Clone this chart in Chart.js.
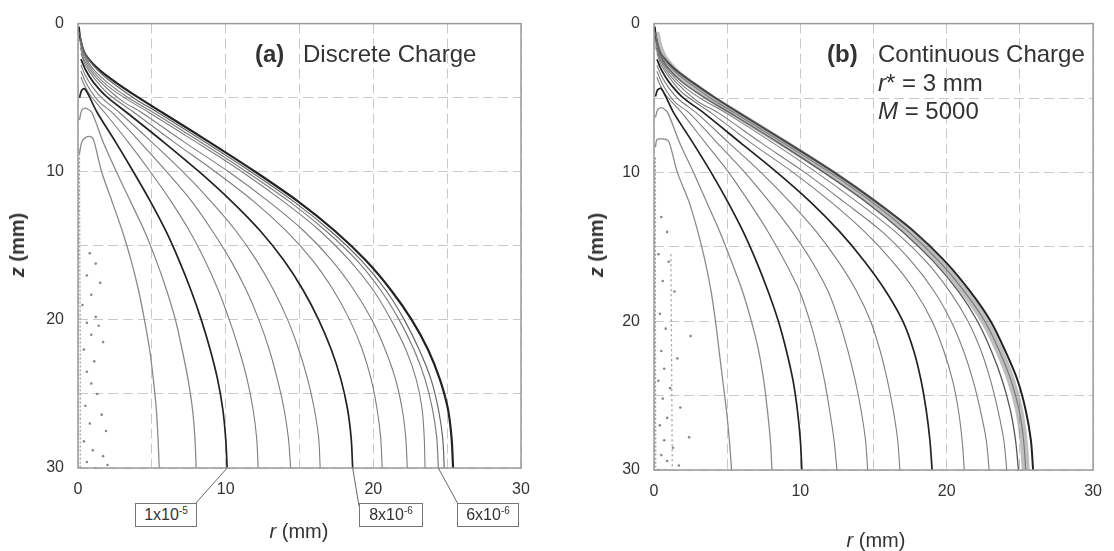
<!DOCTYPE html>
<html>
<head>
<meta charset="utf-8">
<script src="https://cdn.jsdelivr.net/npm/chart.js@4"></script>
<style>
  body { margin: 0; background: #fff; }
  #wrap { position: relative; width: 1114px; height: 551px; font-family: "Liberation Sans", Arial, sans-serif; color: #333; }
  canvas { position: absolute; top: 0; }
  .t { position: absolute; white-space: nowrap; line-height: 1; }
  .big { font-size: 24px; }
  .ax { font-size: 20px; transform: translate(-50%, -50%); }
  .zt { font-size: 20px; font-weight: bold; transform: translate(-50%, -50%) rotate(-90deg); }
  .box { position: absolute; border: 1px solid #777; background: #fff; font-size: 16px; height: 22px; line-height: 22px; text-align: center; }
  .box sup { font-size: 10px; vertical-align: 6px; line-height: 0; }
</style>
</head>
<body>
<div id="wrap">
  <canvas id="left" width="557" height="551" style="left:0"></canvas>
  <canvas id="right" width="557" height="551" style="left:557px"></canvas>

  <div class="t big" style="left:255px; top:42px; font-weight:bold">(a)</div>
  <div class="t big" style="left:303px; top:42px">Discrete Charge</div>

  <div class="t big" style="left:827px; top:42px; font-weight:bold">(b)</div>
  <div class="t big" style="left:878px; top:42px">Continuous Charge</div>
  <div class="t big" style="left:878px; top:71px"><i>r</i>* = 3 mm</div>
  <div class="t big" style="left:878px; top:99px"><i>M</i> = 5000</div>

  <div class="t zt" style="left:17px; top:245px"><i>z</i> (mm)</div>
  <div class="t zt" style="left:596px; top:245px"><i>z</i> (mm)</div>
  <div class="t ax" style="left:299px; top:531px"><i>r</i> (mm)</div>
  <div class="t ax" style="left:876px; top:540px"><i>r</i> (mm)</div>

  <div class="box" style="left:135px; top:503px; width:60px">1x10<sup>-5</sup></div>
  <div class="box" style="left:359px; top:503px; width:62px">8x10<sup>-6</sup></div>
  <div class="box" style="left:457px; top:503px; width:60px">6x10<sup>-6</sup></div>
</div>

<script>
// contour lines, [r, z] in mm
// (a) discrete charge
const a0 = [[0.1, 8.5], [0.12, 15], [0.15, 22], [0.15, 30]];
const a1 = [[0.1, 8.8], [0.25, 8.0], [0.5, 7.7], [0.9, 7.65], [1.1, 8], [1.6, 10], [2.3, 12], [3.0, 14], [3.6, 16], [4.1, 18], [4.5, 20], [4.85, 22], [5.1, 24], [5.3, 26], [5.42, 28], [5.5, 30]];
const a2 = [[0.1, 6.5], [0.25, 5.85], [0.5, 5.7], [0.7, 5.8], [0.95, 6], [1.7, 8], [2.6, 10], [3.55, 12], [4.5, 14], [5.3, 16], [6.0, 18], [6.6, 20], [7.05, 22], [7.45, 24], [7.75, 26], [7.92, 28], [8.0, 30]];
const a3 = [[0.1, 5.0], [0.25, 4.5], [0.45, 4.4], [0.7, 4.8], [1.3, 6], [2.55, 8], [3.75, 10], [4.9, 12], [5.95, 14], [6.85, 16], [7.65, 18], [8.35, 20], [8.95, 22], [9.45, 24], [9.8, 26], [10.0, 28], [10.1, 30]];
const a4 = [[0.2, 3.6], [0.4, 4.1], [0.8, 4.8], [1.8, 6], [3.4, 8], [4.9, 10], [6.3, 12], [7.55, 14], [8.6, 16], [9.5, 18], [10.25, 20], [10.9, 22], [11.45, 24], [11.85, 26], [12.1, 28], [12.2, 30]];
const a5 = [[0.2, 3.2], [0.45, 3.8], [0.9, 4.6], [1.45, 5.3], [2.3, 6], [4.2, 8], [6.0, 10], [7.7, 12], [9.1, 14], [10.35, 16], [11.4, 18], [12.25, 20], [12.95, 22], [13.5, 24], [13.95, 26], [14.25, 28], [14.4, 30]];
const a6 = [[0.2, 2.8], [0.5, 3.5], [1.0, 4.3], [1.7, 5.1], [2.8, 6], [5.0, 8], [7.1, 10], [9.0, 12], [10.7, 14], [12.1, 16], [13.25, 18], [14.2, 20], [14.95, 22], [15.55, 24], [16.0, 26], [16.3, 28], [16.4, 30]];
const a7 = [[0.2, 2.4], [0.5, 3.1], [1.0, 3.9], [1.9, 4.9], [3.3, 6], [5.8, 8], [8.2, 10], [10.4, 12], [12.35, 14], [13.95, 16], [15.25, 18], [16.3, 20], [17.15, 22], [17.8, 24], [18.25, 26], [18.5, 28], [18.6, 30]];
const a8 = [[0.2, 2.0], [0.5, 2.8], [1.1, 3.7], [2.0, 4.7], [3.8, 6], [6.5, 8], [9.3, 10], [11.9, 12], [14.1, 14], [15.9, 16], [17.3, 18], [18.4, 20], [19.25, 22], [19.85, 24], [20.25, 26], [20.5, 28], [20.6, 30]];
const a9 = [[0.15, 1.6], [0.45, 2.5], [1.1, 3.5], [2.1, 4.5], [3.1, 5.3], [4.3, 6], [7.2, 8], [10.2, 10], [12.9, 12], [15.3, 14], [17.2, 16], [18.7, 18], [19.9, 20], [20.8, 22], [21.5, 24], [21.95, 26], [22.2, 28], [22.3, 30]];
const a10 = [[0.15, 1.3], [0.4, 2.2], [1.0, 3.2], [2.0, 4.2], [3.3, 5.1], [4.8, 6], [8.0, 8], [11.1, 10], [13.9, 12], [16.4, 14], [18.4, 16], [20.0, 18], [21.2, 20], [22.2, 22], [22.9, 24], [23.3, 26], [23.45, 28], [23.5, 30]];
const a11 = [[0.1, 1.0], [0.35, 1.9], [0.9, 2.9], [1.9, 3.9], [3.4, 5.0], [5.1, 6], [8.3, 8], [11.4, 10], [14.3, 12], [16.8, 14], [18.9, 16], [20.5, 18], [21.75, 20], [22.75, 22], [23.5, 24], [24.0, 26], [24.3, 28], [24.4, 30]];
const a12 = [[0.1, 0.6], [0.3, 1.5], [0.7, 2.4], [1.5, 3.3], [2.6, 4.2], [3.9, 5.1], [5.4, 6], [8.6, 8], [11.7, 10], [14.6, 12], [17.1, 14], [19.2, 16], [20.85, 18], [22.1, 20], [23.1, 22], [23.9, 24], [24.4, 26], [24.7, 28], [24.8, 30]];
const a13 = [[0.05, 0.2], [0.15, 1.0], [0.45, 2.0], [1.3, 3.0], [2.6, 4.0], [4.1, 5.0], [5.7, 6], [8.9, 8], [12.0, 10], [14.9, 12], [17.4, 14], [19.5, 16], [21.2, 18], [22.6, 20], [23.7, 22], [24.5, 24], [25.05, 26], [25.3, 28], [25.4, 30]];
const aDotsR = [0.8, 1.2, 0.6, 1.5, 0.9, 0.3, 1.2, 0.6, 1.4, 0.9, 1.7, 0.4, 1.1, 0.6, 0.9, 1.3, 0.5, 1.6, 0.8, 1.9, 0.4, 1.0, 1.7, 0.6, 2.0, 1.2];
const aDotsZ = [15.5, 16.2, 17, 17.5, 18.3, 19, 19.8, 20.2, 20.4, 21, 21.5, 22, 22.8, 23.5, 24.3, 25, 25.8, 26.4, 27, 27.5, 28.2, 28.8, 29.2, 29.6, 29.8, 30];

// (b) continuous charge
const b0 = [[0.1, 9], [0.1, 20], [0.12, 30]];
const b0b = [[1.15, 15.5], [1.2, 22], [1.25, 30]];
const b1 = [[0.1, 8.3], [0.2, 7.8], [0.5, 7.75], [0.85, 7.8], [1.05, 8], [1.6, 10], [2.4, 12], [3.0, 14], [3.5, 16], [3.9, 18], [4.2, 20], [4.45, 22], [4.7, 24], [4.95, 26], [5.15, 28], [5.3, 30]];
const b2 = [[0.1, 6.3], [0.25, 5.8], [0.5, 5.65], [0.7, 5.75], [0.95, 6], [1.75, 8], [2.7, 10], [3.6, 12], [4.5, 14], [5.3, 16], [6.05, 18], [6.65, 20], [7.15, 22], [7.5, 24], [7.75, 26], [7.95, 28], [8.06, 30]];
const b3 = [[0.1, 4.9], [0.25, 4.45], [0.45, 4.35], [0.7, 4.7], [1.35, 6], [2.65, 8], [3.9, 10], [5.05, 12], [6.1, 14], [7.0, 16], [7.8, 18], [8.5, 20], [9.05, 22], [9.5, 24], [9.8, 26], [10.0, 28], [10.1, 30]];
const b4 = [[0.2, 3.6], [0.4, 4.1], [0.8, 4.8], [1.9, 6], [3.5, 8], [5.1, 10], [6.5, 12], [7.8, 14], [8.95, 16], [9.95, 18], [10.65, 20], [11.2, 22], [11.65, 24], [12.0, 26], [12.3, 28], [12.5, 30]];
const b5 = [[0.2, 3.2], [0.45, 3.8], [0.9, 4.6], [1.45, 5.3], [2.4, 6], [4.3, 8], [6.2, 10], [7.9, 12], [9.45, 14], [10.8, 16], [11.9, 18], [12.65, 20], [13.25, 22], [13.75, 24], [14.15, 26], [14.45, 28], [14.6, 30]];
const b6 = [[0.2, 2.8], [0.5, 3.5], [1.0, 4.3], [1.7, 5.1], [2.9, 6], [5.1, 8], [7.3, 10], [9.3, 12], [11.1, 14], [12.6, 16], [13.85, 18], [14.8, 20], [15.45, 22], [15.95, 24], [16.35, 26], [16.65, 28], [16.8, 30]];
const b7 = [[0.2, 2.4], [0.5, 3.1], [1.0, 3.9], [1.9, 4.9], [3.4, 6], [5.9, 8], [8.4, 10], [10.7, 12], [12.7, 14], [14.4, 16], [15.85, 18], [17.0, 20], [17.75, 22], [18.25, 24], [18.6, 26], [18.85, 28], [19.0, 30]];
const b8 = [[0.2, 2.0], [0.5, 2.8], [1.1, 3.7], [2.0, 4.7], [3.9, 6], [6.6, 8], [9.5, 10], [12.1, 12], [14.4, 14], [16.3, 16], [17.85, 18], [19.0, 20], [19.8, 22], [20.4, 24], [20.8, 26], [21.05, 28], [21.2, 30]];
const b9 = [[0.15, 1.6], [0.45, 2.5], [1.1, 3.5], [2.1, 4.5], [3.1, 5.3], [4.4, 6], [7.3, 8], [10.3, 10], [13.0, 12], [15.6, 14], [17.6, 16], [19.15, 18], [20.3, 20], [21.15, 22], [21.8, 24], [22.3, 26], [22.7, 28], [22.9, 30]];
const b10 = [[0.15, 1.3], [0.4, 2.2], [1.0, 3.2], [2.0, 4.2], [3.3, 5.1], [4.9, 6], [8.1, 8], [11.1, 10], [13.9, 12], [16.5, 14], [18.6, 16], [20.2, 18], [21.45, 20], [22.35, 22], [23.0, 24], [23.5, 26], [23.9, 28], [24.1, 30]];
const b11 = [[0.1, 1.0], [0.35, 1.9], [0.9, 2.9], [1.9, 3.9], [3.5, 5.0], [5.2, 6], [8.5, 8], [11.6, 10], [14.5, 12], [17.0, 14], [19.1, 16], [20.8, 18], [22.1, 20], [23.05, 22], [23.8, 24], [24.35, 26], [24.7, 28], [24.9, 30]];
const b12 = [[0.1, 0.6], [0.3, 1.5], [0.7, 2.4], [1.5, 3.3], [2.7, 4.2], [4.0, 5.1], [5.5, 6], [8.8, 8], [12.0, 10], [14.9, 12], [17.4, 14], [19.5, 16], [21.2, 18], [22.6, 20], [23.6, 22], [24.4, 24], [24.95, 26], [25.25, 28], [25.4, 30]];
const b13 = [[0.05, 0.2], [0.15, 1.0], [0.45, 2.0], [1.35, 3.0], [2.7, 4.0], [4.2, 5.0], [5.8, 6], [9.1, 8], [12.3, 10], [15.2, 12], [17.8, 14], [19.9, 16], [21.6, 18], [23.0, 20], [24.0, 22], [24.85, 24], [25.4, 26], [25.75, 28], [25.9, 30]];
const bDotsR = [0.5, 0.9, 0.3, 1.0, 0.6, 1.4, 0.4, 0.8, 2.5, 0.5, 1.6, 0.7, 0.3, 1.1, 0.6, 1.8, 0.9, 0.4, 2.4, 0.7, 1.3, 0.5, 0.9, 1.7, 0.3, 0.8];
const bDotsZ = [13, 14, 15.5, 16, 17.3, 18, 19.5, 20.5, 21, 22, 22.5, 23.2, 24, 24.5, 25.2, 25.8, 26.5, 27, 27.8, 28, 28.5, 29, 29.4, 29.7, 30, 30];

// levels pointed at by the boxes under (a)
const labelledEnds = [10.1, 18.6, 24.4];

const DARK = '#222';
const GRAY = '#7d7d7d';
const FONT = "'Liberation Sans', Arial, sans-serif";

const pts = (arr) => arr.map(([r, z]) => ({ x: r, y: z }));

function lineSet(arr, color, width, extra) {
  return Object.assign({
    data: pts(arr),
    showLine: true,
    borderColor: color,
    borderWidth: width,
    pointRadius: 0,
    tension: 0.3,
    fill: false,
  }, extra || {});
}

function dotSet(rs, zs) {
  return {
    data: rs.map((r, i) => ({ x: r, y: zs[i] })),
    showLine: false,
    pointRadius: 1.3,
    pointBorderWidth: 0,
    backgroundColor: '#888',
  };
}

const framePlugin = {
  id: 'frame',
  afterDraw(chart) {
    const { ctx, chartArea: a } = chart;
    ctx.save();
    ctx.strokeStyle = '#9a9a9a';
    ctx.lineWidth = 1.5;
    ctx.strokeRect(a.left, a.top, a.right - a.left, a.bottom - a.top);
    ctx.restore();
  },
};

const leaderPlugin = {
  id: 'leaders',
  afterDraw(chart) {
    const { ctx } = chart;
    const x = chart.scales.x;
    const yb = chart.scales.y.getPixelForValue(30);
    const targets = [[195, 504], [359, 506], [458, 504]];
    ctx.save();
    ctx.strokeStyle = '#666';
    ctx.lineWidth = 1;
    labelledEnds.forEach((r, i) => {
      ctx.beginPath();
      ctx.moveTo(x.getPixelForValue(r), yb);
      ctx.lineTo(targets[i][0], targets[i][1]);
      ctx.stroke();
    });
    ctx.restore();
  },
};

function makeOptions(yWidth, xHeight, padRight) {
  const tickFont = { family: FONT, size: 16 };
  return {
    responsive: false,
    animation: false,
    devicePixelRatio: 1,
    layout: { padding: { top: 20, right: padRight, left: 0, bottom: 0 } },
    plugins: { legend: { display: false }, tooltip: { enabled: false } },
    scales: {
      x: {
        type: 'linear',
        min: 0,
        max: 30,
        ticks: {
          stepSize: 5,
          padding: 12,
          color: '#333',
          font: tickFont,
          maxRotation: 0,
          callback: (v) => (v % 10 === 0 ? v : ''),
        },
        grid: { color: '#c9c9c9', lineWidth: 1, drawTicks: false },
        border: { display: false, dash: [10, 5] },
        afterFit: (s) => { s.height = xHeight; },
      },
      y: {
        type: 'linear',
        reverse: true,
        min: 0,
        max: 30,
        ticks: {
          stepSize: 5,
          padding: 14,
          color: '#333',
          font: tickFont,
          callback: (v) => (v % 10 === 0 ? v : ''),
        },
        grid: { color: '#c9c9c9', lineWidth: 1, drawTicks: false },
        border: { display: false, dash: [10, 5] },
        afterFit: (s) => { s.width = yWidth; },
      },
    },
  };
}

const leftSets = [
  lineSet(a0, '#999', 1.2, { borderDash: [2, 2] }),
  dotSet(aDotsR, aDotsZ),
  lineSet(a1, '#8a8a8a', 1.3),
  lineSet(a2, '#8a8a8a', 1.3),
  lineSet(a3, DARK, 1.7),
  lineSet(a4, GRAY, 1.1),
  lineSet(a5, GRAY, 1.1),
  lineSet(a6, GRAY, 1.1),
  lineSet(a7, DARK, 1.7),
  lineSet(a8, GRAY, 1.1),
  lineSet(a9, GRAY, 1.1),
  lineSet(a10, GRAY, 1.1),
  lineSet(a11, GRAY, 1.2),
  lineSet(a12, '#666', 1.2),
  lineSet(a13, DARK, 2.2),
];

const rightSets = [
  lineSet(b0, '#999', 1.2, { borderDash: [2, 2] }),
  lineSet(b0b, '#999', 1.2, { borderDash: [2, 3] }),
  dotSet(bDotsR, bDotsZ),
  lineSet(b12, 'rgba(110,110,110,0.45)', 8),
  lineSet(b1, '#8a8a8a', 1.3),
  lineSet(b2, '#8a8a8a', 1.3),
  lineSet(b3, DARK, 1.7),
  lineSet(b4, GRAY, 1.1),
  lineSet(b5, GRAY, 1.1),
  lineSet(b6, GRAY, 1.1),
  lineSet(b7, DARK, 1.7),
  lineSet(b8, GRAY, 1.1),
  lineSet(b9, GRAY, 1.1),
  lineSet(b10, GRAY, 1.1),
  lineSet(b11, '#555', 1.3),
  lineSet(b12, GRAY, 1.1),
  lineSet(b13, DARK, 2.0),
];

new Chart(document.getElementById('left'), {
  type: 'scatter',
  data: { datasets: leftSets },
  options: makeOptions(78, 83, 36),
  plugins: [framePlugin, leaderPlugin],
});

new Chart(document.getElementById('right'), {
  type: 'scatter',
  data: { datasets: rightSets },
  options: makeOptions(97, 81, 15),
  plugins: [framePlugin],
});
</script>
</body>
</html>
